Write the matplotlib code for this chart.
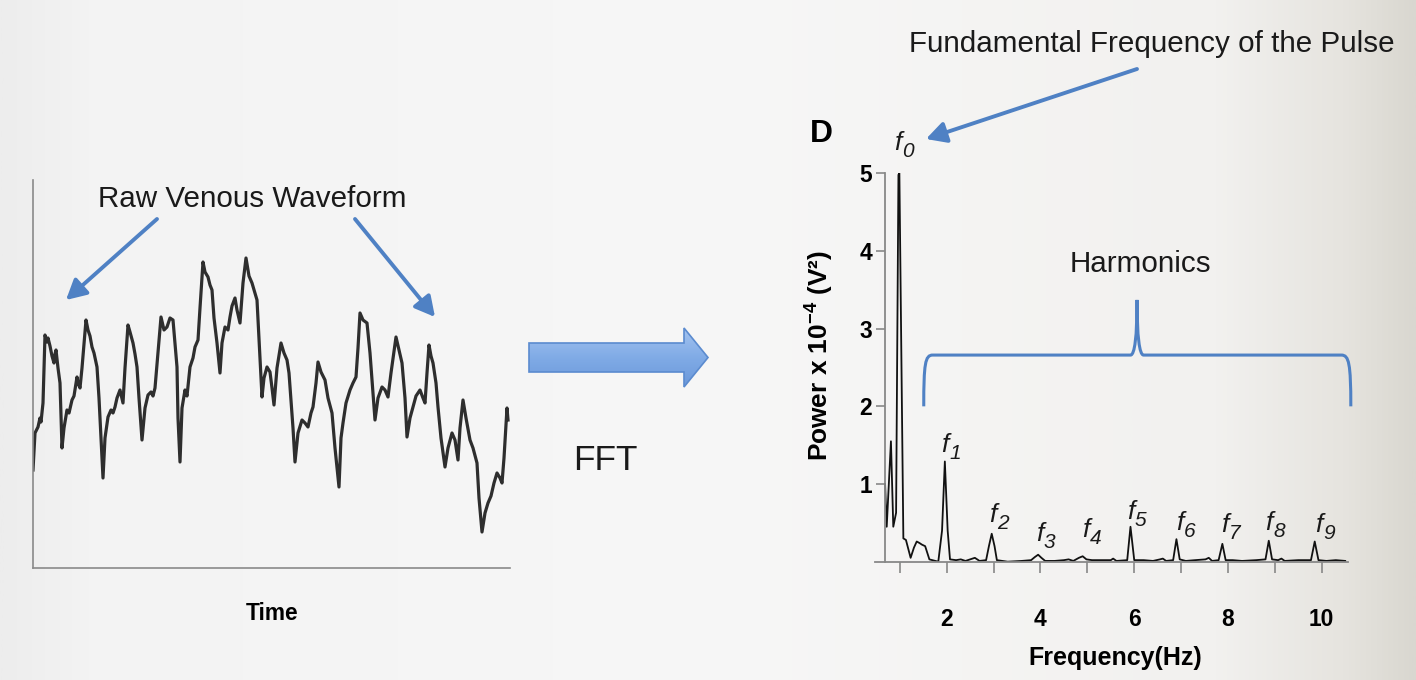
import numpy as np
import matplotlib
matplotlib.use('Agg')
import matplotlib.pyplot as plt
from matplotlib import font_manager
from matplotlib.patches import FancyArrow, PathPatch
from matplotlib.path import Path
from matplotlib.colors import LinearSegmentedColormap

# raw venous waveform (time and amplitude in arbitrary units)
wave_t = [0, 2, 5, 7, 8, 10, 12, 14, 15, 17, 19, 21, 22, 23, 25, 27, 29, 31, 34, 36, 39,
          41, 44, 45, 47, 49, 53, 55, 57, 59, 61, 64, 66, 70, 72, 75, 78, 80, 82, 84, 87,
          90, 92, 95, 97, 100, 102, 104, 106, 109, 112, 115, 118, 120, 122, 125, 128,
          131, 134, 137, 140, 142, 144, 145, 147, 149, 152, 154, 157, 160, 162, 165,
          167, 170, 172, 175, 177, 179, 181, 184, 187, 189, 192, 195, 197, 199, 202,
          204, 207, 210, 213, 216, 219, 222, 224, 226, 229, 231, 234, 237, 239, 241,
          244, 248, 251, 254, 256, 257, 260, 262, 265, 269, 272, 275, 278, 280, 283,
          285, 288, 292, 295, 299, 302, 306, 308, 310, 313, 317, 320, 323, 325, 327,
          330, 334, 337, 340, 342, 345, 349, 352, 355, 358, 363, 366, 369, 372, 374,
          377, 380, 383, 387, 390, 392, 394, 396, 398, 400, 403, 405, 408, 412, 415,
          419, 422, 425, 427, 430, 433, 437, 440, 444, 446, 449, 452, 455, 458, 461,
          464, 467, 469, 471, 474, 475]
wave_amp = [98, 135, 141, 150, 146, 165, 233, 226, 230, 222, 212, 205, 214, 218, 200, 185,
            120, 140, 158, 155, 168, 172, 191, 185, 180, 200, 248, 238, 232, 221, 215, 201,
            170, 90, 130, 151, 158, 155, 161, 170, 178, 165, 200, 243, 236, 225, 214, 201,
            170, 128, 160, 173, 176, 172, 180, 215, 251, 238, 241, 250, 248, 225, 201,
            150, 106, 160, 178, 172, 201, 210, 221, 228, 260, 306, 296, 291, 283, 278,
            250, 225, 195, 225, 241, 238, 251, 262, 270, 258, 245, 285, 310, 292, 285,
            275, 268, 230, 171, 190, 201, 196, 180, 163, 200, 225, 215, 208, 195, 181,
            140, 106, 135, 148, 145, 141, 155, 161, 185, 206, 196, 188, 170, 155, 120, 81,
            130, 145, 165, 178, 185, 191, 220, 255, 248, 245, 215, 175, 148, 170, 181,
            178, 171, 195, 231, 218, 205, 170, 131, 150, 161, 172, 178, 170, 165, 195,
            223, 212, 205, 185, 161, 130, 101, 120, 135, 128, 108, 140, 168, 150, 128,
            120, 105, 70, 36, 55, 65, 72, 85, 95, 90, 85, 110, 160, 148]

# power spectrum (Hz, power x 1e-4 V^2)
spec_f = [0.685, 0.72, 0.81, 0.86, 0.92, 0.97, 0.99, 1.075, 1.13, 1.23, 1.30, 1.36, 1.42,
          1.47, 1.54, 1.63, 1.82, 1.90, 1.96, 2.02, 2.07, 2.2, 2.3, 2.4, 2.5, 2.6, 2.7,
          2.84, 2.90, 2.96, 3.02, 3.07, 3.3, 3.6, 3.8, 3.88, 3.95, 4.02, 4.1, 4.3, 4.5,
          4.6, 4.7, 4.82, 4.9, 4.98, 5.1, 5.3, 5.5, 5.55, 5.62, 5.85, 5.92, 6.0, 6.2,
          6.4, 6.55, 6.61, 6.68, 6.83, 6.90, 6.97, 7.1, 7.3, 7.52, 7.59, 7.66, 7.8,
          7.88, 7.95, 8.1, 8.3, 8.6, 8.8, 8.87, 8.94, 9.07, 9.14, 9.21, 9.5, 9.77,
          9.85, 9.93, 10.1, 10.3, 10.5]
spec_p = [1.0, 0.45, 1.55, 0.45, 0.63, 4.98, 5.0, 0.30, 0.28, 0.05, 0.18, 0.26, 0.24,
          0.22, 0.20, 0.03, 0.0, 0.40, 1.29, 0.40, 0.03, 0.02, 0.03, 0.01, 0.03, 0.05,
          0.01, 0.02, 0.20, 0.36, 0.20, 0.02, 0.0, 0.01, 0.02, 0.06, 0.09, 0.05, 0.01,
          0.01, 0.02, 0.03, 0.01, 0.05, 0.07, 0.03, 0.02, 0.02, 0.02, 0.04, 0.01, 0.02,
          0.45, 0.02, 0.02, 0.01, 0.03, 0.04, 0.01, 0.02, 0.29, 0.03, 0.01, 0.02, 0.03,
          0.05, 0.01, 0.02, 0.23, 0.02, 0.02, 0.01, 0.02, 0.03, 0.27, 0.03, 0.02, 0.04,
          0.01, 0.02, 0.02, 0.26, 0.02, 0.01, 0.02, 0.01]

harm_names = ['0', '1', '2', '3', '4', '5', '6', '7', '8', '9']
harm_label_x = [1.0, 2.01, 3.03, 4.03, 5.01, 5.97, 7.02, 7.98, 8.92, 9.98]
harm_label_y = [5.30, 1.41, 0.51, 0.27, 0.32, 0.55, 0.41, 0.38, 0.41, 0.38]

x_ticks = [1, 2, 3, 4, 5, 6, 7, 8, 9, 10]
y_ticks = [1, 2, 3, 4, 5]

# fonts: narrow Helvetica look if available
names = {f.name for f in font_manager.fontManager.ttflist}
if 'Liberation Sans Narrow' in names:
    fam, k = 'Liberation Sans Narrow', 1.0
else:
    fam, k = 'Liberation Sans', 0.82
plt.rcParams['font.family'] = [fam, 'DejaVu Sans']
plt.rcParams['mathtext.fontset'] = 'custom'
plt.rcParams['mathtext.rm'] = fam
plt.rcParams['mathtext.it'] = fam + ':italic'
plt.rcParams['mathtext.bf'] = fam + ':bold'

blue = '#4f81c4'
W, H = 1416, 680
fig = plt.figure(figsize=(W / 100, H / 100), dpi=100)

# background + annotation layer in pixel coords
bg = fig.add_axes([0, 0, 1, 1], zorder=0)
bg.set_xlim(0, W)
bg.set_ylim(H, 0)
bg.axis('off')
cmap = LinearSegmentedColormap.from_list(
    'bg', [(0, '#ededed'), (0.06, '#f3f3f3'), (0.5, '#f7f7f7'),
           (0.86, '#f2f1ef'), (0.95, '#e6e4df'), (1.0, '#d9d7d0')])
bg.imshow(np.linspace(0, 1, 512)[None, :], cmap=cmap, aspect='auto',
          extent=[0, W, H, 0], zorder=0)

aprops = dict(arrowstyle='-|>,head_length=0.6,head_width=0.32', lw=2.8,
              color=blue, mutation_scale=20, shrinkA=0, shrinkB=0)
bg.annotate('', xy=(66, 300), xytext=(157, 219), arrowprops=aprops)
bg.annotate('', xy=(435, 317), xytext=(355, 219), arrowprops=aprops)
bg.annotate('', xy=(926, 139), xytext=(1137, 69), arrowprops=aprops)

# block arrow with a light vertical gradient
barrow = FancyArrow(529, 357.5, 179, 0, width=29, head_width=59, head_length=24,
                    length_includes_head=True, fc='none', ec='#5b8bcf', lw=1.2, zorder=3)
bg.add_patch(barrow)
bcmap = LinearSegmentedColormap.from_list('b', ['#a3c3f0', '#80abe6', '#6b98da'])
grad = bg.imshow(np.linspace(0, 1, 64)[:, None], cmap=bcmap, aspect='auto',
                 extent=[529, 708, 387, 328], zorder=2)
grad.set_clip_path(barrow)
bg.set_xlim(0, W)
bg.set_ylim(H, 0)

bg.text(252, 207, 'Raw Venous Waveform', fontsize=26 * k, ha='center', va='baseline', color='#1a1a1a')
bg.text(1152, 52, 'Fundamental Frequency of the Pulse', fontsize=26 * k, ha='center',
        va='baseline', color='#1a1a1a')
bg.text(1140, 272, 'Harmonics', fontsize=26 * k, ha='center', va='baseline', color='#1a1a1a')
bg.text(605, 470, 'FFT', fontsize=31 * k, ha='center', va='baseline', color='#1a1a1a')
bg.text(821, 142, 'D', fontsize=28 * k, fontweight='bold', ha='center', va='baseline')
bg.text(272, 620, 'Time', fontsize=20 * k, fontweight='bold', ha='center', va='baseline')
bg.text(1115, 665, 'Frequency(Hz)', fontsize=22 * k, fontweight='bold', ha='center', va='baseline')
bg.text(820, 356, r'Power x 10$^{\mathbf{-4}}$ (V²)', fontsize=23 * k, fontweight='bold',
        rotation=90, ha='center', va='center')

# left: raw waveform
ax1 = fig.add_axes([33 / W, 1 - 568 / H, 477 / W, 388 / H], zorder=1)
ax1.patch.set_alpha(0)
ax1.plot(wave_t, wave_amp, color='#2e2e2e', lw=2.3)
ax1.set_xlim(0, 477)
ax1.set_ylim(0, 388)
for s in ['top', 'right']:
    ax1.spines[s].set_visible(False)
for s in ['left', 'bottom']:
    ax1.spines[s].set_color('#8a8a8a')
    ax1.spines[s].set_linewidth(1.2)
ax1.set_xticks([])
ax1.set_yticks([])

# right: spectrum
ax2 = fig.add_axes([875 / W, 1 - 561.7 / H, 473 / W, 388.4 / H], zorder=1)
ax2.patch.set_alpha(0)
ax2.plot(spec_f, spec_p, color='#111111', lw=1.3)
ax2.set_xlim(0.47, 10.56)
ax2.set_ylim(0, 5)
for s in ['top', 'right']:
    ax2.spines[s].set_visible(False)
for s in ['left', 'bottom']:
    ax2.spines[s].set_color('#888888')
    ax2.spines[s].set_linewidth(1.3)
ax2.spines['left'].set_position(('data', 0.685))
ax2.set_xticks(x_ticks)
ax2.set_xticklabels([str(t) if t % 2 == 0 else '' for t in x_ticks])
ax2.set_yticks(y_ticks)
ax2.tick_params(axis='x', direction='out', length=8, width=1.2, color='#888888',
                pad=25, labelsize=20 * k)
ax2.tick_params(axis='y', direction='out', length=6.5, width=1.2, color='#888888',
                pad=3, labelsize=20 * k)
for lab in ax2.get_xticklabels() + ax2.get_yticklabels():
    lab.set_fontweight('bold')

# f_n labels: italic f with italic subscript digit
for n, x, y in zip(harm_names, harm_label_x, harm_label_y):
    ax2.text(x + 0.03, y, 'f', fontsize=19, style='italic', ha='right', va='baseline',
             color='#1a1a1a', clip_on=False)
    ax2.annotate(n, xy=(x + 0.03, y), xytext=(0.5, -5), textcoords='offset points',
                 fontsize=15, style='italic', ha='left', va='baseline', color='#1a1a1a',
                 annotation_clip=False)

# harmonics brace
verts = [(1.51, 2.0), (1.51, 2.55), (1.54, 2.66), (1.70, 2.66),
         (5.92, 2.66),
         (6.01, 2.66), (6.06, 2.9), (6.06, 3.37),
         (6.06, 2.9), (6.11, 2.66), (6.20, 2.66),
         (10.42, 2.66),
         (10.58, 2.66), (10.62, 2.55), (10.62, 2.0)]
codes = [Path.MOVETO, Path.CURVE4, Path.CURVE4, Path.CURVE4,
         Path.LINETO,
         Path.CURVE4, Path.CURVE4, Path.CURVE4,
         Path.CURVE4, Path.CURVE4, Path.CURVE4,
         Path.LINETO,
         Path.CURVE4, Path.CURVE4, Path.CURVE4]
ax2.add_patch(PathPatch(Path(verts, codes), fc='none', ec=blue, lw=2.2, clip_on=False))

fig.savefig('out.png', dpi=100)
